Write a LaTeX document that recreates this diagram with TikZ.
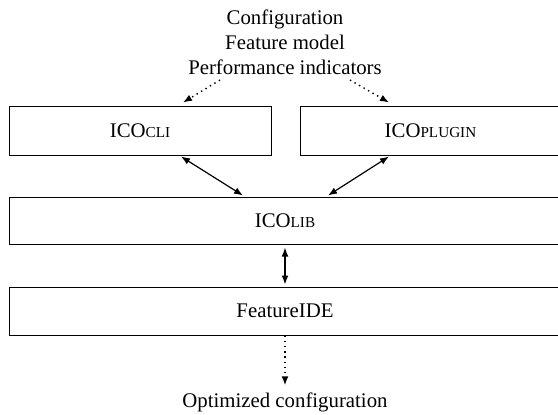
\documentclass[tikz,border=0pt]{standalone}
\usepackage{fontspec}
\setmainfont{Liberation Serif}
\usetikzlibrary{arrows.meta}
\newcommand\mysc[1]{{\fontsize{7.6pt}{9pt}\selectfont #1}}
\begin{document}
\begin{tikzpicture}[x=0.5pt,y=-0.5pt,
  every node/.style={font=\fontsize{10.4pt}{12.5pt}\selectfont},
  box/.style={draw=black,line width=0.5pt,rectangle,inner sep=0pt},
  biarrow/.style={line width=0.6pt,{Latex[length=4.5pt,width=3.4pt]}-{Latex[length=4.5pt,width=3.4pt]}},
  dotarrow/.style={line width=0.7pt,dash pattern=on 0.7pt off 1.9pt,-{Latex[length=4.5pt,width=3.4pt]}}]
\clip (0,0) rectangle (558,414);
\node[align=center,inner sep=0pt] (inputs) at (285,42) {Configuration\\Feature model\\Performance indicators};
\coordinate (inL) at (220,80);
\coordinate (inR) at (350,80);
\node[box,minimum width=131pt,minimum height=24.5pt] (cli) at (140,130.5) {ICO\mysc{CLI}};
\node[box,minimum width=130.5pt,minimum height=24.5pt] (plugin) at (430.5,130.5) {ICO\mysc{PLUGIN}};
\node[box,minimum width=276pt,minimum height=23.5pt] (lib) at (285,220.5) {ICO\mysc{LIB}};
\node[box,minimum width=276pt,minimum height=24pt] (fide) at (285,311) {FeatureIDE};
\node (out) at (285,402) {Optimized configuration};
\draw[dotarrow] (inL) -- ([xshift=21.5pt,yshift=1.5pt]cli.north);
\draw[dotarrow] (inR) -- ([xshift=-20.75pt,yshift=1.5pt]plugin.north);
\draw[biarrow] ([xshift=20.5pt,yshift=-0.5pt]cli.south) -- ([xshift=-21pt,yshift=0.5pt]lib.north);
\draw[biarrow] ([xshift=-20.75pt,yshift=-0.5pt]plugin.south) -- ([xshift=21.5pt,yshift=0.5pt]lib.north);
\draw[biarrow] ([yshift=-1.5pt]lib.south) -- ([yshift=1pt]fide.north);
\draw[dotarrow] (fide.south) -- (out.north);
\end{tikzpicture}
\end{document}
